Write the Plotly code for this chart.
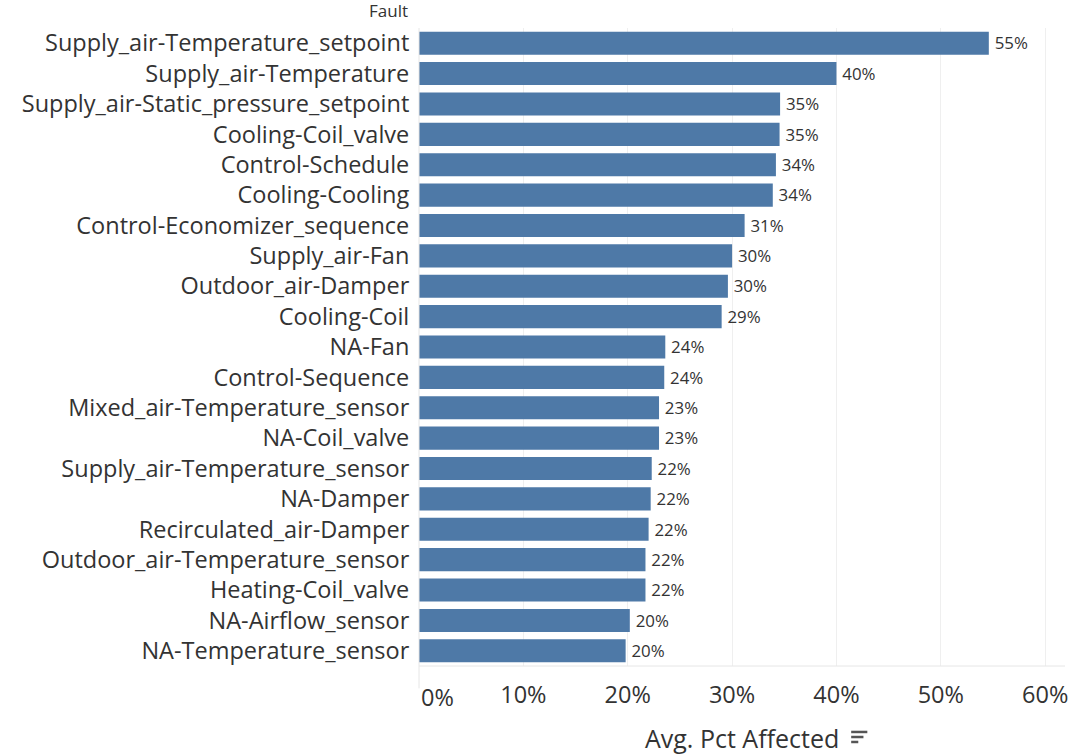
import plotly.graph_objects as go

faults = [
    "Supply_air-Temperature_setpoint",
    "Supply_air-Temperature",
    "Supply_air-Static_pressure_setpoint",
    "Cooling-Coil_valve",
    "Control-Schedule",
    "Cooling-Cooling",
    "Control-Economizer_sequence",
    "Supply_air-Fan",
    "Outdoor_air-Damper",
    "Cooling-Coil",
    "NA-Fan",
    "Control-Sequence",
    "Mixed_air-Temperature_sensor",
    "NA-Coil_valve",
    "Supply_air-Temperature_sensor",
    "NA-Damper",
    "Recirculated_air-Damper",
    "Outdoor_air-Temperature_sensor",
    "Heating-Coil_valve",
    "NA-Airflow_sensor",
    "NA-Temperature_sensor",
]
avg_pct = [54.6, 40.0, 34.6, 34.55, 34.2, 33.9, 31.2, 30.0, 29.6, 29.0,
           23.6, 23.5, 23.0, 23.0, 22.3, 22.2, 22.0, 21.7, 21.7, 20.2, 19.8]
tick_vals = [0, 10, 20, 30, 40, 50, 60]
tick_text = ["", "10%", "20%", "30%", "40%", "50%", "60%"]

FONT = "Open Sans"
TXT = "#333333"

fig = go.Figure(go.Bar(
    x=avg_pct, y=faults, orientation="h",
    marker=dict(color="#4e79a7", line=dict(color="#4e79a7", width=0)),
    text=[f"\u2009{v:.0f}%" for v in avg_pct],
    textposition="outside",
    textfont=dict(family=FONT, size=19, color=TXT),
    cliponaxis=False,
    hoverinfo="skip",
))

L, R, T, B = 419, 3, 28, 88
fig.update_layout(
    width=1068, height=754,
    margin=dict(l=L, r=R, t=T, b=B, autoexpand=False),
    paper_bgcolor="white", plot_bgcolor="white",
    bargap=0.24,
    showlegend=False,
    font=dict(family=FONT, color=TXT),
    xaxis=dict(
        range=[0, 61.9], tickvals=tick_vals, ticktext=tick_text,
        showgrid=True, gridcolor="#efefef", gridwidth=1,
        zeroline=False, showline=False, automargin=False,
        ticks="outside", ticklen=8, tickcolor="rgba(0,0,0,0)",
        ticklabeloverflow="allow",
        tickfont=dict(family=FONT, size=23.5, color=TXT),
    ),
    yaxis=dict(
        autorange="reversed", showgrid=False, zeroline=False, showline=False,
        automargin=False,
        ticks="outside", ticklen=4, tickcolor="rgba(0,0,0,0)",
        tickfont=dict(family=FONT, size=23.5, color=TXT),
    ),
)

# left axis line and bottom line
fig.add_shape(type="line", xref="paper", yref="paper", x0=0, x1=0, y0=-0.035, y1=1,
              line=dict(color="#e6e6e6", width=1))
fig.add_shape(type="line", xref="paper", yref="paper", x0=0, x1=1, y0=0, y1=0,
              line=dict(color="#e6e6e6", width=1))

# 0% label (Tableau keeps it inside the axis)
fig.add_annotation(x=0, y=0, xref="x", yref="paper", text="0%", showarrow=False,
                   xanchor="left", yanchor="top", yshift=-13, xshift=0,
                   font=dict(family=FONT, size=23.5, color=TXT))

# axis title
fig.add_annotation(x=0.5, y=0, xref="paper", yref="paper", text="Avg. Pct Affected",
                   showarrow=False, xanchor="center", yanchor="middle", yshift=-72,
                   font=dict(family=FONT, size=25, color=TXT))

# Header
fig.add_annotation(x=0, y=1, xref="paper", yref="paper", text="Fault", showarrow=False,
                   xanchor="right", yanchor="bottom", xshift=-9, yshift=4,
                   font=dict(family=FONT, size=17, color=TXT))

# sort icon next to axis title
for y, x1 in [(-0.1034, 0.694), (-0.1113, 0.688), (-0.1191, 0.680)]:
    fig.add_shape(type="line", xref="paper", yref="paper",
                  x0=0.669, x1=x1, y0=y, y1=y,
                  line=dict(color="#555555", width=2.5))

fig.write_html("out.html")
